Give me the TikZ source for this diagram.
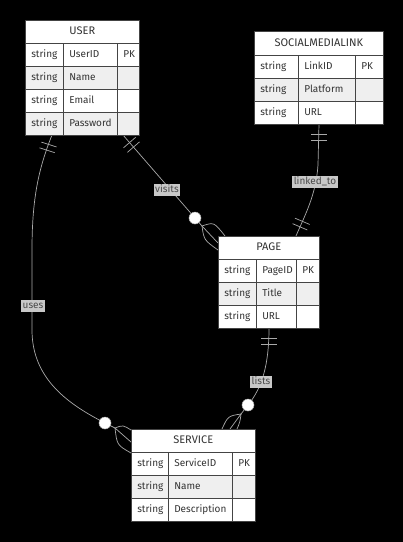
\documentclass[tikz,border=0pt]{standalone}
\usepackage{fontspec}
\setmainfont{Fira Sans}
\usetikzlibrary{calc}
\definecolor{tborder}{HTML}{444444}
\definecolor{rowalt}{HTML}{EFEFEF}
\definecolor{ttext}{HTML}{333333}
\definecolor{edgec}{HTML}{AAAAAA}
\definecolor{lblfill}{HTML}{C8C8C8}
\definecolor{lbltext}{HTML}{4A4A4A}
\tikzset{
  ercell/.style={draw=tborder, line width=0.6pt, inner xsep=6pt, inner ysep=0pt,
    minimum height=23pt, anchor=north west, text=ttext,
    font=\fontsize{10}{12}\selectfont, text height=7.5pt, text depth=2pt},
  ertitle/.style={ercell, fill=white, align=center, font=\fontsize{11}{13}\selectfont},
  edge/.style={draw=edgec, line width=0.7pt},
  circ/.style={circle, fill=white, draw=edgec, line width=0.5pt, minimum size=12pt, inner sep=0pt},
  elabel/.style={fill=lblfill, text=lbltext, font=\fontsize{10}{12}\selectfont,
    inner xsep=1.5pt, inner ysep=1pt, text height=7.5pt, text depth=2pt}
}
\newcommand{\ercell}[6]{%
  \pgfmathsetmacro{\ercellw}{#4-12}%
  \node[ercell, fill=#5, minimum width=#4pt, text width=\ercellw pt, align=left] (#1) at (#2,#3) {#6};}
\newcommand{\ertitlecell}[5]{%
  \pgfmathsetmacro{\ercellw}{#4-12}%
  \node[ertitle, minimum width=#4pt, text width=\ercellw pt, minimum height=#5pt] (#1) at (#2,#3) {\MakeUppercase{#1}};}
\newcommand{\erbars}[2]{%
  \coordinate (#1-b1) at ($(#1)!10pt!(#2)$);
  \coordinate (#1-b2) at ($(#1)!16pt!(#2)$);
  \draw[edge] ($(#1-b1)!8pt!90:(#1)$) -- ($(#1-b1)!8pt!-90:(#1)$)
              ($(#1-b2)!8pt!90:(#1)$) -- ($(#1-b2)!8pt!-90:(#1)$);}
\begin{document}
\begin{tikzpicture}[x=1pt,y=-1pt]
\fill[black] (0,0) rectangle (403,542);
\useasboundingbox (0,0) rectangle (403,542);

% ---------- connectors ----------
% visits: USER -> PAGE
\coordinate (v-s) at (123,135);
\coordinate (v-c) at (195,218);
\coordinate (v-d) at (202,226);
\coordinate (v-u) at (225,236);
\coordinate (v-m) at (218,243);
\coordinate (v-l) at (218,250);
\draw[edge] (v-s) -- (v-c) -- (v-d);
\draw[edge] (v-d) .. controls (214,222) .. (v-u);
\draw[edge] (v-d) -- (v-m);
\draw[edge] (v-d) .. controls (204,240) .. (v-l);
\erbars{v-s}{v-c}

% uses: USER -> SERVICE
\coordinate (u-s) at (52,135);
\coordinate (u-n) at (44,160);
\coordinate (u-c) at (105,423);
\coordinate (u-d) at (115,428);
\coordinate (u-u) at (131,430);
\coordinate (u-m) at (131,442);
\coordinate (u-l) at (131,453);
\draw[edge] (u-s) .. controls (38,170) and (32,200) .. (32,250) -- (32,330)
   .. controls (32,380) and (70,405) .. (u-c) -- (u-d);
\draw[edge] (u-d) .. controls (123,425) .. (u-u);
\draw[edge] (u-d) -- (u-m);
\draw[edge] (u-d) .. controls (117,445) .. (u-l);
\erbars{u-s}{u-n}

% linked_to: SOCIALMEDIALINK -> PAGE
\coordinate (k-s) at (319,124);
\coordinate (k-n) at (319,150);
\coordinate (k-e) at (296,236);
\coordinate (k-n2) at (305,215);
\draw[edge] (k-s) -- (318,165) .. controls (316,195) and (305,215) .. (k-e);
\erbars{k-s}{k-n}
\erbars{k-e}{k-n2}

% lists: PAGE -> SERVICE
\coordinate (li-s) at (269,328);
\coordinate (li-n) at (269,350);
\coordinate (li-c) at (248,405);
\coordinate (li-d) at (241,414);
\coordinate (li-l) at (222,429);
\coordinate (li-m) at (230,429);
\coordinate (li-r) at (237,429);
\draw[edge] (li-s) .. controls (269,365) and (262,388) .. (li-c) -- (li-d);
\draw[edge] (li-d) .. controls (228,416) .. (li-l);
\draw[edge] (li-d) -- (li-m);
\draw[edge] (li-d) .. controls (240,422) .. (li-r);
\erbars{li-s}{li-n}

% circles
\node[circ] (v-circ) at (v-c) {};
\node[circ] (u-circ) at (u-c) {};
\node[circ] (li-circ) at (li-c) {};

% labels
\node[elabel] (l-visits) at (167,190) {visits};
\node[elabel] (l-uses) at (33,306) {uses};
\node[elabel] (l-linked) at (315,182) {linked\_to};
\node[elabel] (l-lists) at (261,382) {lists};

% ---------- USER ----------
\ertitlecell{user}{25}{20}{114}{23}
\ercell{user-1a}{25}{43}{38}{white}{string}
\ercell{user-1b}{63}{43}{54}{white}{UserID}
\ercell{user-1c}{117}{43}{22}{white}{PK}
\ercell{user-2a}{25}{66}{38}{rowalt}{string}
\ercell{user-2b}{63}{66}{54}{rowalt}{Name}
\ercell{user-2c}{117}{66}{22}{rowalt}{}
\ercell{user-3a}{25}{89}{38}{white}{string}
\ercell{user-3b}{63}{89}{54}{white}{Email}
\ercell{user-3c}{117}{89}{22}{white}{}
\ercell{user-4a}{25}{112}{38}{rowalt}{string}
\ercell{user-4b}{63}{112}{54}{rowalt}{Password}
\ercell{user-4c}{117}{112}{22}{rowalt}{}

% ---------- SOCIALMEDIALINK ----------
\ertitlecell{socialmedialink}{254}{31}{129}{24}
\ercell{sml-1a}{254}{55}{44}{white}{string}
\ercell{sml-1b}{298}{55}{57}{white}{LinkID}
\ercell{sml-1c}{355}{55}{28}{white}{PK}
\ercell{sml-2a}{254}{78}{44}{rowalt}{string}
\ercell{sml-2b}{298}{78}{57}{rowalt}{Platform}
\ercell{sml-2c}{355}{78}{28}{rowalt}{}
\ercell{sml-3a}{254}{101}{44}{white}{string}
\ercell{sml-3b}{298}{101}{57}{white}{URL}
\ercell{sml-3c}{355}{101}{28}{white}{}

% ---------- PAGE ----------
\ertitlecell{page}{218}{236}{101}{23}
\ercell{page-1a}{218}{259}{38}{white}{string}
\ercell{page-1b}{256}{259}{40}{white}{PageID}
\ercell{page-1c}{296}{259}{23}{white}{PK}
\ercell{page-2a}{218}{282}{38}{rowalt}{string}
\ercell{page-2b}{256}{282}{40}{rowalt}{Title}
\ercell{page-2c}{296}{282}{23}{rowalt}{}
\ercell{page-3a}{218}{305}{38}{white}{string}
\ercell{page-3b}{256}{305}{40}{white}{URL}
\ercell{page-3c}{296}{305}{23}{white}{}

% ---------- SERVICE ----------
\ertitlecell{service}{131}{429}{124}{23}
\ercell{service-1a}{131}{452}{37}{white}{string}
\ercell{service-1b}{168}{452}{64}{white}{ServiceID}
\ercell{service-1c}{232}{452}{23}{white}{PK}
\ercell{service-2a}{131}{475}{37}{rowalt}{string}
\ercell{service-2b}{168}{475}{64}{rowalt}{Name}
\ercell{service-2c}{232}{475}{23}{rowalt}{}
\ercell{service-3a}{131}{498}{37}{white}{string}
\ercell{service-3b}{168}{498}{64}{white}{Description}
\ercell{service-3c}{232}{498}{23}{white}{}
\end{tikzpicture}
\end{document}
